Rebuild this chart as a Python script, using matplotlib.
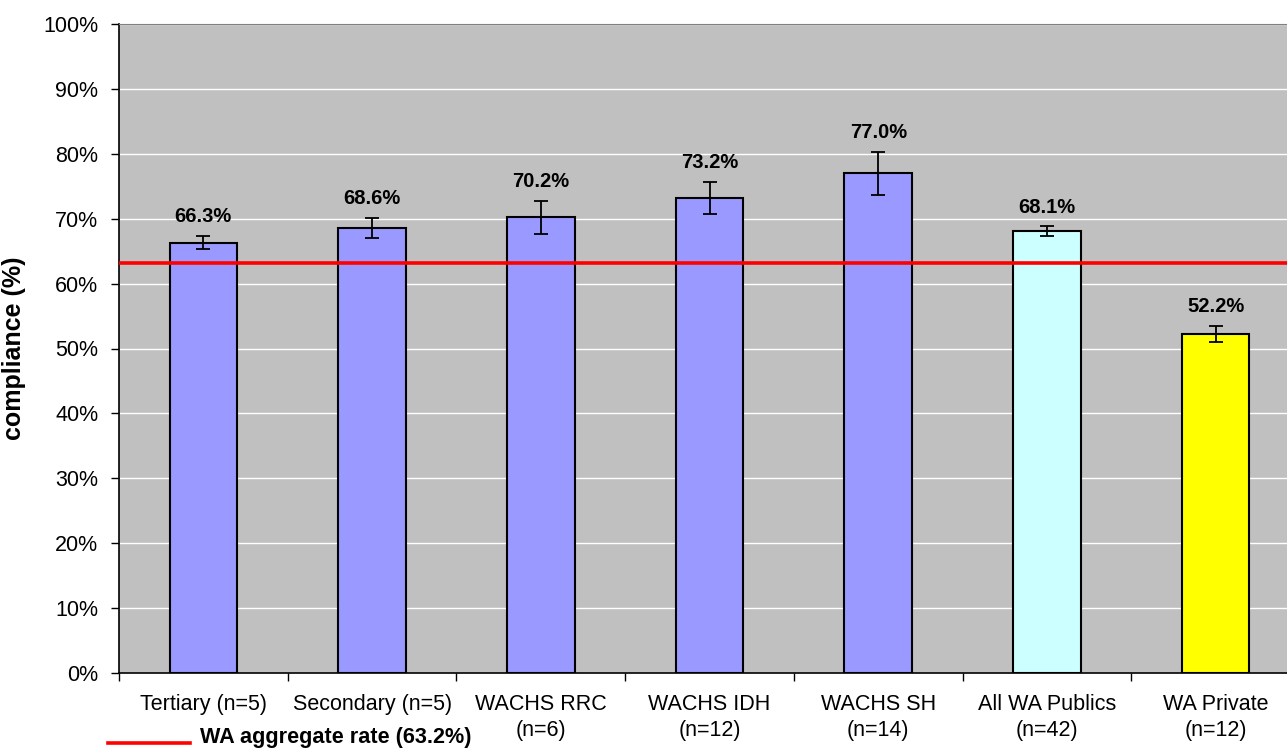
import matplotlib
matplotlib.use("Agg")
import matplotlib.pyplot as plt
from matplotlib.lines import Line2D

plt.rcParams['font.family'] = ['Liberation Sans', 'DejaVu Sans']

# data
categories = ["Tertiary (n=5)", "Secondary (n=5)", "WACHS RRC\n(n=6)",
              "WACHS IDH\n(n=12)", "WACHS SH\n(n=14)", "All WA Publics\n(n=42)",
              "WA Private\n(n=12)"]
compliance = [66.3, 68.6, 70.2, 73.2, 77.0, 68.1, 52.2]
errors = [1.0, 1.5, 2.5, 2.5, 3.3, 0.7, 1.2]
bar_colors = ["#9999FF"] * 5 + ["#CCFFFF", "#FFFF00"]
aggregate = 63.2

W, H = 1287, 749
fig = plt.figure(figsize=(W / 100, H / 100), dpi=100)
# axes runs slightly past the right edge, as in the original
ax = fig.add_axes([119 / W, (H - 673) / H, 1181 / W, 649 / H])
ax.set_facecolor("#C0C0C0")

x = range(len(categories))
ax.bar(x, compliance, width=0.40, color=bar_colors, edgecolor="black",
       linewidth=1.5, zorder=3)
ax.errorbar(x, compliance, yerr=errors, fmt="none", ecolor="black",
            elinewidth=1.3, capsize=5, capthick=1.3, zorder=4)
ax.axhline(aggregate, color="#FF0000", linewidth=2.6, zorder=5)

for i, (v, e) in enumerate(zip(compliance, errors)):
    ax.text(i, v + e + 3.0, f"{v:.1f}%", ha="center", va="center",
            fontsize=14.5, fontweight="bold", zorder=6)

ax.set_xlim(-0.5, len(categories) - 0.5)
ax.set_ylim(0, 100)
ax.set_yticks(range(0, 101, 10))
ax.set_yticklabels([f"{t}%" for t in range(0, 101, 10)])
ax.yaxis.grid(True, color="white", linewidth=1.0, zorder=0)
ax.set_axisbelow(True)

ax.set_xticks([i - 0.5 for i in range(len(categories) + 1)], minor=False)
ax.set_xticklabels([])
ax.set_xticks(list(x), minor=True)
ax.set_xticklabels(categories, minor=True, fontsize=15.5, linespacing=1.35)
ax.tick_params(axis="x", which="minor", length=0, pad=15)
ax.tick_params(axis="x", which="major", length=6, direction="out", width=1)
ax.tick_params(axis="y", length=6, direction="out", width=1, labelsize=15.5, pad=9)

for s in ["left", "bottom"]:
    ax.spines[s].set_color("black")
    ax.spines[s].set_linewidth(1.2)
ax.spines["top"].set_color("#808080")
ax.spines["right"].set_visible(False)

ax.set_ylabel("compliance (%)", fontsize=18, fontweight="bold", labelpad=12)

# legend entry below the axis
fig.add_artist(Line2D([108 / W, 190 / W], [1 - 743 / H, 1 - 743 / H],
                      color="#FF0000", linewidth=2.6))
fig.text(200 / W, 1 - 738 / H, "WA aggregate rate (63.2%)", fontsize=15.6,
         fontweight="bold", va="center", ha="left")

fig.savefig("out.png", dpi=100)
